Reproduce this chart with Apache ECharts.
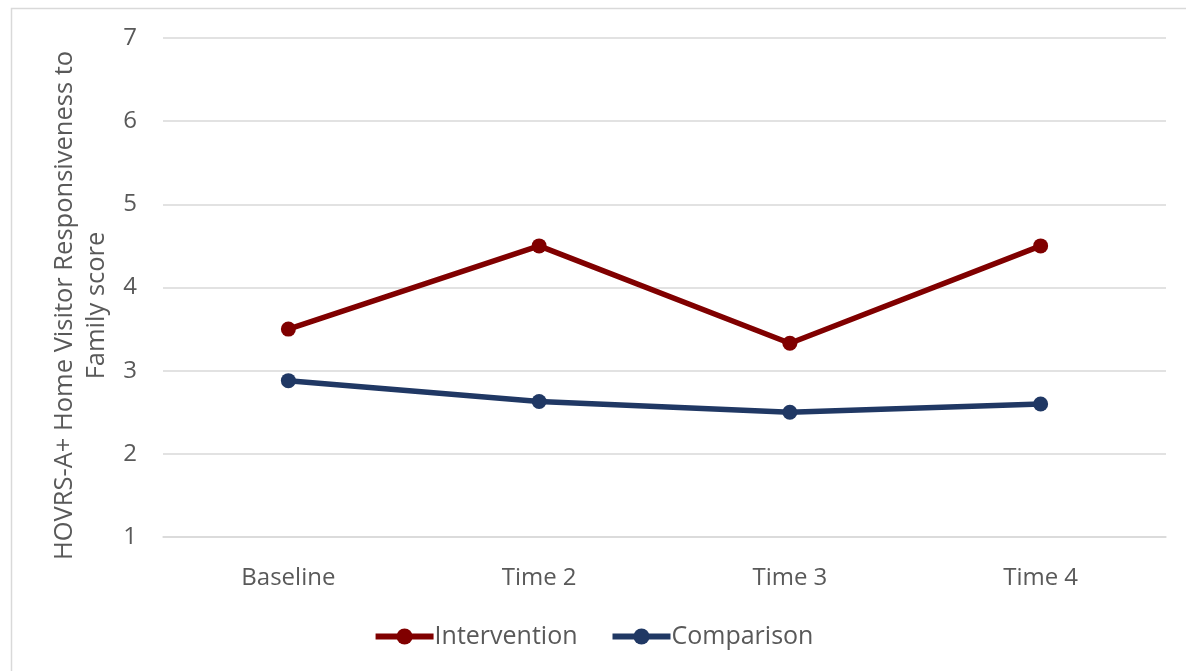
<!DOCTYPE html>
<html>
<head>
<meta charset="utf-8">
<script src="https://cdn.jsdelivr.net/npm/echarts@6/dist/echarts.min.js"></script>
<style>
  html, body { margin: 0; padding: 0; background: #ffffff; }
  #chart { width: 1186px; height: 671px; }
</style>
</head>
<body>
<div id="chart"></div>
<script>
// Measurement occasions and mean scores per group
const categories = ['Baseline', 'Time 2', 'Time 3', 'Time 4'];
const intervention = [3.5, 4.5, 3.33, 4.5];
const comparison = [2.88, 2.63, 2.5, 2.6];
const yTicks = { min: 1, max: 7, interval: 1 };

const FONT = '"Open Sans", "Noto Sans", sans-serif';
const TEXT = '#595959';

const chart = echarts.init(document.getElementById('chart'), null, { renderer: 'canvas' });

function lineSeries(name, data, color) {
  return {
    name: name,
    type: 'line',
    data: data,
    symbol: 'circle',
    symbolSize: 15,
    lineStyle: { color: color, width: 5.5 },
    itemStyle: { color: color },
    emphasis: { disabled: true }
  };
}

chart.setOption({
  animation: false,
  backgroundColor: '#ffffff',
  graphic: [{
    type: 'rect',
    shape: { x: 11.5, y: 8.5, width: 1200, height: 700 },
    style: { fill: 'none', stroke: '#d9d9d9', lineWidth: 1.5 },
    silent: true
  }],
  grid: { left: 163, right: 20, top: 38, bottom: 134, containLabel: false },
  legend: {
    bottom: 17,
    left: 'center',
    itemWidth: 58,
    itemHeight: 20,
    itemGap: 32,
    lineStyle: { width: 6 },
    textStyle: { color: TEXT, fontSize: 25, fontFamily: FONT, padding: [0, 0, 0, -4] },
    data: ['Intervention', 'Comparison']
  },
  xAxis: {
    type: 'category',
    data: categories,
    boundaryGap: true,
    axisLine: { show: true, lineStyle: { color: '#d9d9d9', width: 1.5 } },
    axisTick: { show: false },
    axisLabel: { color: TEXT, fontSize: 24, fontFamily: FONT, margin: 29 }
  },
  yAxis: {
    type: 'value',
    min: yTicks.min,
    max: yTicks.max,
    interval: yTicks.interval,
    name: 'HOVRS-A+ Home Visitor Responsiveness to\nFamily score',
    nameLocation: 'middle',
    nameGap: 50,
    nameRotate: 90,
    nameTextStyle: { color: TEXT, fontSize: 25.5, fontFamily: FONT, lineHeight: 32, padding: [0, 36, 0, 0] },
    axisLine: { show: false },
    axisTick: { show: false },
    axisLabel: { color: TEXT, fontSize: 24, fontFamily: FONT, margin: 26 },
    splitLine: { lineStyle: { color: '#d9d9d9', width: 1.5 } }
  },
  series: [
    lineSeries('Intervention', intervention, '#800000'),
    lineSeries('Comparison', comparison, '#203864')
  ]
});
</script>
</body>
</html>
